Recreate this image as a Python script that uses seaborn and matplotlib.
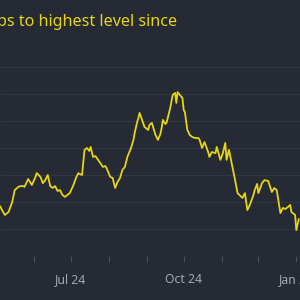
import matplotlib
matplotlib.use("Agg")
import matplotlib.pyplot as plt
import matplotlib.dates as mdates
import pandas as pd
import seaborn as sns

# daily readings
dates = [
    "2024-05-04", "2024-05-06", "2024-05-08", "2024-05-11", "2024-05-14", "2024-05-16",
    "2024-05-19", "2024-05-21", "2024-05-23", "2024-05-24", "2024-05-27", "2024-05-28",
    "2024-05-30", "2024-06-02", "2024-06-03", "2024-06-06", "2024-06-08", "2024-06-10",
    "2024-06-12", "2024-06-14", "2024-06-16", "2024-06-18", "2024-06-20", "2024-06-22",
    "2024-06-24", "2024-06-26", "2024-06-28", "2024-06-30", "2024-07-03", "2024-07-05",
    "2024-07-07", "2024-07-08", "2024-07-10", "2024-07-12", "2024-07-14", "2024-07-16",
    "2024-07-17", "2024-07-19", "2024-07-21", "2024-07-22", "2024-07-25", "2024-07-27",
    "2024-07-29", "2024-07-30", "2024-08-02", "2024-08-04", "2024-08-06", "2024-08-08",
    "2024-08-10", "2024-08-12", "2024-08-14", "2024-08-16", "2024-08-19", "2024-08-21",
    "2024-08-22", "2024-08-24", "2024-08-25", "2024-08-26", "2024-08-28", "2024-08-30",
    "2024-09-02", "2024-09-03", "2024-09-05", "2024-09-08", "2024-09-10", "2024-09-12",
    "2024-09-13", "2024-09-14", "2024-09-16", "2024-09-17", "2024-09-20", "2024-09-22",
    "2024-09-24", "2024-09-25", "2024-09-26", "2024-09-28", "2024-09-30", "2024-10-01",
    "2024-10-02", "2024-10-04", "2024-10-06", "2024-10-08", "2024-10-10", "2024-10-13",
    "2024-10-14", "2024-10-16", "2024-10-18", "2024-10-21", "2024-10-22", "2024-10-24",
    "2024-10-27", "2024-10-28", "2024-10-31", "2024-11-02", "2024-11-04", "2024-11-05",
    "2024-11-07", "2024-11-09", "2024-11-12", "2024-11-14", "2024-11-18", "2024-11-20",
    "2024-11-22", "2024-11-24", "2024-11-27", "2024-11-28", "2024-11-30", "2024-12-01",
    "2024-12-04", "2024-12-06", "2024-12-09", "2024-12-12", "2024-12-14", "2024-12-16",
    "2024-12-19", "2024-12-21", "2024-12-23", "2024-12-25", "2024-12-27", "2024-12-28",
    "2024-12-31", "2025-01-01", "2025-01-03",
]
values = [
    18.5, 16.7, 15.2, 16.3, 20.0, 24.4, 25.6, 25.9, 25.9, 25.6, 28.5, 27.8,
    26.3, 29.3, 30.7, 29.3, 27.0, 28.1, 30.0, 25.9, 25.2, 25.9, 24.1, 24.4,
    22.6, 21.9, 22.6, 23.3, 26.3, 28.9, 30.7, 30.4, 30.0, 39.3, 40.0, 38.9,
    40.4, 36.7, 37.0, 36.3, 34.4, 33.0, 33.3, 32.6, 29.3, 28.9, 25.2, 27.4,
    28.9, 31.9, 33.0, 36.7, 40.0, 43.0, 45.6, 49.6, 51.1, 53.0, 50.4, 47.8,
    46.7, 48.5, 49.3, 44.8, 43.0, 45.2, 47.4, 50.4, 48.9, 49.3, 54.8, 59.6,
    60.4, 56.7, 60.7, 59.6, 58.5, 54.1, 53.3, 46.7, 44.8, 44.1, 43.7, 43.7,
    43.0, 40.0, 42.2, 38.5, 36.7, 38.5, 38.1, 40.4, 35.6, 38.1, 41.9, 35.6,
    39.3, 34.8, 28.1, 23.3, 21.5, 23.3, 17.0, 18.9, 22.6, 24.4, 26.7, 23.3,
    27.0, 28.1, 27.8, 23.7, 25.2, 24.4, 15.9, 17.8, 17.4, 18.1, 18.9, 16.3,
    15.2, 9.6, 13.7,
]
title = "ps to highest level since"

bg = "#262a34"
yellow = "#e6d416"
grey = "#a3a7ae"

df = pd.DataFrame({"date": pd.to_datetime(dates), "value": values})

sns.set_style("dark", {"axes.facecolor": bg, "figure.facecolor": bg})
plt.rcParams["font.family"] = ["Noto Sans", "DejaVu Sans"]

fig = plt.figure(figsize=(3, 3), dpi=100)
ax = fig.add_axes([0, 1 - 256 / 300, 1, (256 - 53.5) / 300])
sns.lineplot(data=df, x="date", y="value", ax=ax, color=yellow, linewidth=1.3)

ax.set_xlim(pd.Timestamp("2024-05-04"), pd.Timestamp("2025-01-04"))
ax.set_ylim(0, 75)
ax.set_yticks(range(0, 80, 10))
ax.yaxis.grid(True, color="#323641", linewidth=0.8)
ax.set_axisbelow(True)
ax.tick_params(axis="y", left=False, labelleft=False)

ax.xaxis.set_major_locator(mdates.MonthLocator(bymonth=[1, 4, 7, 10]))
ax.xaxis.set_major_formatter(mdates.DateFormatter("%b %y"))
ax.xaxis.set_minor_locator(mdates.MonthLocator())
ax.tick_params(axis="x", which="both", bottom=True, length=4, width=0.8,
               color="#4a4e58", labelcolor=grey, labelsize=8.8, pad=8)
ax.set_xlabel("")
ax.set_ylabel("")
for s in ax.spines.values():
    s.set_visible(False)

fig.text(177 / 300, 1 - 22 / 300, title, color=yellow, fontsize=11.6,
         ha="right", va="center")

fig.savefig("out.png", dpi=100, facecolor=bg)
